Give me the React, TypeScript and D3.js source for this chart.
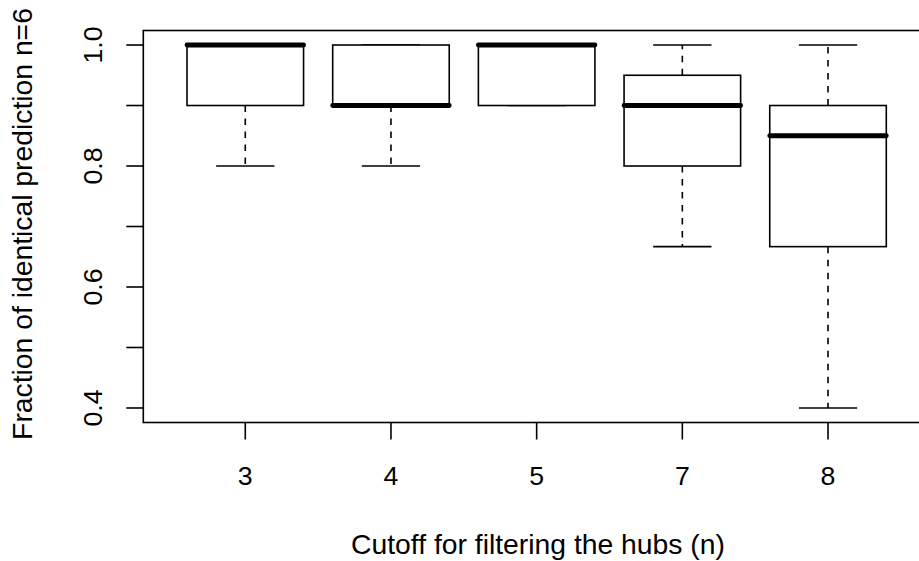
import React from 'react';
import * as d3 from 'd3';

// box statistics
const categories = ['3', '4', '5', '7', '8'];
const lowerWhisker = [0.8, 0.8, 0.9, 0.6667, 0.4];
const lowerHinge = [0.9, 0.9, 0.9, 0.8, 0.6667];
const medians = [1.0, 0.9, 1.0, 0.9, 0.85];
const upperHinge = [1.0, 1.0, 1.0, 0.95, 0.9];
const upperWhisker = [1.0, 1.0, 1.0, 1.0, 1.0];

const yTicks = [0.4, 0.5, 0.6, 0.7, 0.8, 0.9, 1.0];
const yLabels = [0.4, 0.6, 0.8, 1.0];

const W = 919;
const H = 561;
const font = '"Liberation Sans", Arial, Helvetica, sans-serif';
const fs = 26.7;
const fsTitle = 28.3;
const lw = 1.6;

const App: React.FC = () => {
  // R style: 4% extension on both axes
  const x = d3.scaleLinear().domain([0.3, 5.7]).range([143.3, 930]);
  const y = d3.scaleLinear().domain([0.376, 1.024]).range([422.5, 30.5]);

  const boxW = x(1.4) - x(1); // half of box width (boxwex 0.8)
  const capW = boxW / 2;
  const tickLen = 17;

  return (
    <svg
      width={W}
      height={H}
      style={{ position: 'absolute', left: 0, top: 0, background: '#fff' }}
      fontFamily={font}
    >
      {/* boxes */}
      {categories.map((c, i) => {
        const cx = x(i + 1);
        return (
          <g key={c} stroke="#000" fill="none">
            <line
              x1={cx}
              x2={cx}
              y1={y(lowerHinge[i])}
              y2={y(lowerWhisker[i])}
              strokeWidth={lw}
              strokeDasharray="6.5,6.5"
            />
            <line
              x1={cx}
              x2={cx}
              y1={y(upperHinge[i])}
              y2={y(upperWhisker[i])}
              strokeWidth={lw}
              strokeDasharray="6.5,6.5"
            />
            <line x1={cx - capW} x2={cx + capW} y1={y(lowerWhisker[i])} y2={y(lowerWhisker[i])} strokeWidth={lw} />
            <line x1={cx - capW} x2={cx + capW} y1={y(upperWhisker[i])} y2={y(upperWhisker[i])} strokeWidth={lw} />
            <rect
              x={cx - boxW}
              y={y(upperHinge[i])}
              width={boxW * 2}
              height={y(lowerHinge[i]) - y(upperHinge[i])}
              fill="#fff"
              strokeWidth={lw}
            />
            <line
              x1={cx - boxW}
              x2={cx + boxW}
              y1={y(medians[i])}
              y2={y(medians[i])}
              strokeWidth={4.8}
              strokeLinecap="round"
            />
          </g>
        );
      })}

      {/* frame */}
      <rect
        x={x(0.3)}
        y={y(1.024)}
        width={x(5.7) - x(0.3)}
        height={y(0.376) - y(1.024)}
        fill="none"
        stroke="#000"
        strokeWidth={lw}
      />

      {/* y axis */}
      {yTicks.map((t) => (
        <line key={t} x1={x(0.3) - tickLen} x2={x(0.3)} y1={y(t)} y2={y(t)} stroke="#000" strokeWidth={lw} />
      ))}
      {yLabels.map((t) => (
        <text
          key={t}
          transform={`translate(101.5,${y(t)}) rotate(-90)`}
          textAnchor="middle"
          fontSize={fs}
        >
          {d3.format('.1f')(t)}
        </text>
      ))}

      {/* x axis */}
      {categories.map((c, i) => (
        <g key={c}>
          <line x1={x(i + 1)} x2={x(i + 1)} y1={y(0.376)} y2={y(0.376) + tickLen} stroke="#000" strokeWidth={lw} />
          <text x={x(i + 1)} y={485} textAnchor="middle" fontSize={fs}>
            {c}
          </text>
        </g>
      ))}

      <text x={538} y={554} textAnchor="middle" fontSize={fsTitle}>
        Cutoff for filtering the hubs (n)
      </text>
      <text
        transform={`translate(32,224) rotate(-90)`}
        textAnchor="middle"
        fontSize={fsTitle}
      >
        Fraction of identical prediction n=6
      </text>
    </svg>
  );
};

export default App;
